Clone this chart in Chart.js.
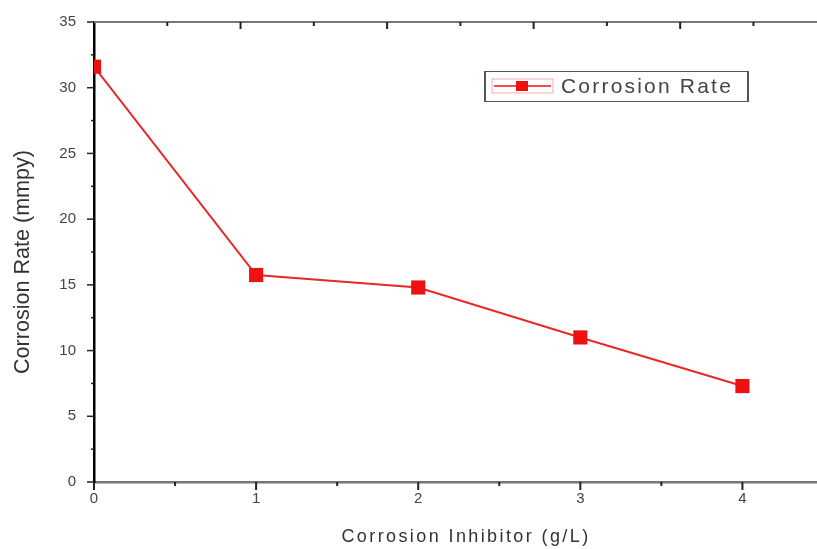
<!DOCTYPE html>
<html>
<head>
<meta charset="utf-8">
<script src="https://cdn.jsdelivr.net/npm/chart.js@4.4.0/dist/chart.umd.min.js"></script>
<style>
  html, body { margin: 0; padding: 0; background: #fff; overflow: hidden; }
</style>
</head>
<body>
<canvas id="chart" width="817" height="549"></canvas>
<script>
// values
var inhibitor = [0, 1, 2, 3, 4];
var corrosionRate = [31.6, 15.75, 14.8, 11.0, 7.3];
var yTicks = [0, 5, 10, 15, 20, 25, 30, 35];
var xTicks = [0, 1, 2, 3, 4];
var seriesName = 'Corrosion Rate';
var xTitle = 'Corrosion Inhibitor (g/L)';
var yTitle = 'Corrosion Rate (mmpy)';

var red = '#ee1111';
var points = inhibitor.map(function(x, i) { return { x: x, y: corrosionRate[i] }; });

// axis frame, minor ticks, legend box and titles
var framePlugin = {
    id: 'frame',
    afterDraw: function(chart) {
        var ctx = chart.ctx;
        var a = chart.chartArea;
        var xs = chart.scales.x, ys = chart.scales.y;
        ctx.save();

        // top line
        ctx.strokeStyle = '#777';
        ctx.lineWidth = 2;
        ctx.beginPath();
        ctx.moveTo(a.left, a.top);
        ctx.lineTo(a.right, a.top);
        ctx.stroke();

        // left ticks (outward)
        ctx.strokeStyle = '#222';
        ctx.lineWidth = 1.5;
        for (var v = 0; v <= 35; v += 2.5) {
            var py = ys.getPixelForValue(v);
            var len = (v % 5 === 0) ? 7 : 3;
            ctx.beginPath();
            ctx.moveTo(a.left - len, py);
            ctx.lineTo(a.left, py);
            ctx.stroke();
        }
        // bottom ticks (outward)
        ctx.lineWidth = 2;
        for (var u = 0; u <= 4.5; u += 0.5) {
            var px = xs.getPixelForValue(u);
            var l2 = (u % 1 === 0) ? 8 : 4;
            ctx.beginPath();
            ctx.moveTo(px, a.bottom);
            ctx.lineTo(px, a.bottom + l2);
            ctx.stroke();
        }
        // top ticks (inward)
        for (var k = 1; k <= 9; k++) {
            var tx = xs.getPixelForValue(k * 0.452);
            ctx.beginPath();
            ctx.moveTo(tx, a.top);
            ctx.lineTo(tx, a.top + ((k % 2 === 0) ? 7 : 4));
            ctx.stroke();
        }

        // legend box
        var bx = 484, by = 71, bw = 264, bh = 30;
        ctx.strokeStyle = '#555';
        ctx.lineWidth = 1;
        ctx.strokeRect(bx + 0.5, by + 0.5, bw, bh);
        ctx.lineWidth = 2;
        ctx.beginPath();
        ctx.moveTo(bx + 1, by); ctx.lineTo(bx + 1, by + bh + 1);
        ctx.moveTo(bx + bw, by); ctx.lineTo(bx + bw, by + bh + 1);
        ctx.stroke();
        // legend sample
        var cy = by + bh / 2;
        ctx.strokeStyle = 'rgba(238,17,17,0.35)';
        ctx.lineWidth = 1;
        ctx.beginPath();
        ctx.moveTo(492, cy - 7); ctx.lineTo(553, cy - 7);
        ctx.moveTo(492, cy + 7); ctx.lineTo(553, cy + 7);
        ctx.moveTo(492, cy - 7); ctx.lineTo(492, cy + 7);
        ctx.moveTo(553, cy - 7); ctx.lineTo(553, cy + 7);
        ctx.stroke();
        ctx.strokeStyle = red;
        ctx.lineWidth = 1.5;
        ctx.beginPath();
        ctx.moveTo(494, cy); ctx.lineTo(551, cy);
        ctx.stroke();
        ctx.fillStyle = red;
        ctx.fillRect(516, cy - 5, 12, 10);
        ctx.fillStyle = '#444';
        ctx.font = '21px "Liberation Sans", Arial, sans-serif';
        ctx.textBaseline = 'middle';
        ctx.textAlign = 'left';
        ctx.letterSpacing = '2.2px';
        ctx.fillText(seriesName, 561, cy + 1);

        // x title
        ctx.font = '18px "Liberation Sans", Arial, sans-serif';
        ctx.letterSpacing = '2.4px';
        ctx.fillStyle = '#333';
        ctx.textAlign = 'center';
        ctx.fillText(xTitle, 466, 537);

        // y title
        ctx.letterSpacing = '0px';
        ctx.font = '22px "Liberation Sans Narrow", "Liberation Sans", Arial, sans-serif';
        ctx.translate(23, 262);
        ctx.rotate(-Math.PI / 2);
        ctx.scale(0.98, 1.0);
        ctx.fillText(yTitle, 0, 0);
        ctx.restore();
    }
};

var ctx = document.getElementById('chart');
var myChart = new Chart(ctx, {
    type: 'line',
    data: {
        datasets: [{
            label: seriesName,
            data: points,
            borderColor: '#e82828',
            borderWidth: 2,
            backgroundColor: red,
            pointStyle: 'rect',
            pointRadius: 10,
            pointBorderWidth: 0,
            tension: 0
        }]
    },
    options: {
        responsive: false,
        animation: false,
        layout: { autoPadding: false, padding: { left: 0, top: 22, right: 0, bottom: 0 } },
        plugins: {
            legend: { display: false },
            tooltip: { enabled: false }
        },
        scales: {
            x: {
                type: 'linear',
                min: 0,
                max: 4.46,
                grid: { display: false, drawTicks: false },
                border: { display: true, color: '#777', width: 2.5 },
                afterBuildTicks: function(scale) {
                    scale.ticks = xTicks.map(function(v) { return { value: v }; });
                },
                afterFit: function(scale) {
                    scale.height = 67;
                    scale.paddingLeft = 0;
                    scale.paddingRight = 0;
                },
                ticks: {
                    padding: 8,
                    color: '#444',
                    font: { family: '"Liberation Sans", Arial, sans-serif', size: 15 }
                }
            },
            y: {
                min: 0,
                max: 35,
                grid: { display: false, drawTicks: false },
                border: { display: true, color: '#000', width: 2.5 },
                afterBuildTicks: function(scale) {
                    scale.ticks = yTicks.map(function(v) { return { value: v }; });
                },
                afterFit: function(scale) {
                    scale.width = 94;
                    scale.paddingTop = 0;
                    scale.paddingBottom = 0;
                },
                ticks: {
                    padding: 18,
                    color: '#444',
                    font: { family: '"Liberation Sans", Arial, sans-serif', size: 15 }
                }
            }
        }
    },
    plugins: [framePlugin]
});
</script>
</body>
</html>
